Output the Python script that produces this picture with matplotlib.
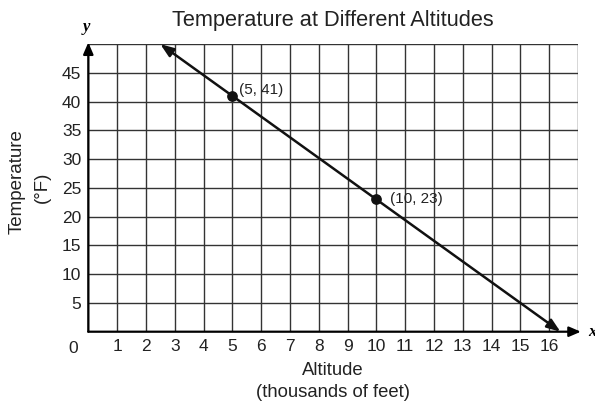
import matplotlib
matplotlib.use("Agg")
import matplotlib.pyplot as plt

# Data
x_ticks = list(range(0, 18))
x_tick_labels = [""] + [str(i) for i in range(1, 17)] + [""]
y_ticks = list(range(0, 55, 5))
y_tick_labels = [""] + [str(v) for v in range(5, 50, 5)] + [""]
points_x = [5, 10]
points_y = [41, 23]
point_labels = ["(5, 41)", "(10, 23)"]
label_offsets = [(4.5, 4.5), (9.5, 0)]
line_start = (2.5, 50)
line_end = (16.39, 0)

plt.rcParams['font.family'] = ['Liberation Sans', 'DejaVu Sans']

fig = plt.figure(figsize=(5.95, 4.01), dpi=100)
ax = fig.add_axes([0.1484, 0.1728, 0.9714 - 0.1484, 0.890 - 0.1728])
ax.set_xlim(0, 17)
ax.set_ylim(0, 50)
ax.set_xticks(x_ticks)
ax.set_xticklabels(x_tick_labels, fontsize=12.5, color="#222222")
ax.set_yticks(y_ticks)
ax.set_yticklabels(y_tick_labels, fontsize=12.5, color="#222222")
ax.tick_params(axis="x", length=0, pad=5)
ax.tick_params(axis="y", length=0, pad=5)
ax.grid(True, color="#333333", linewidth=1.0)
ax.set_axisbelow(True)
for s in ["top", "right", "left", "bottom"]:
    ax.spines[s].set_visible(False)

# origin label
ax.text(-0.35, -1.6, "0", fontsize=12.5, color="#222222", ha="right", va="top")

# axes arrows
ax.annotate("", xy=(0, 50.3), xytext=(0, 0),
            arrowprops=dict(arrowstyle="-|>,head_length=0.7,head_width=0.3",
                            color="black", lw=1.6, shrinkA=0, shrinkB=0),
            annotation_clip=False)
ax.annotate("", xy=(17.1, 0), xytext=(0, 0),
            arrowprops=dict(arrowstyle="-|>,head_length=0.7,head_width=0.3",
                            color="black", lw=1.6, shrinkA=0, shrinkB=0),
            annotation_clip=False)

# main line with arrows at both ends
ax.annotate("", xy=line_end, xytext=line_start,
            arrowprops=dict(arrowstyle="<|-|>,head_length=0.8,head_width=0.3",
                            color="#111111", lw=1.8, shrinkA=0, shrinkB=0),
            annotation_clip=False)

ax.scatter(points_x, points_y, s=45, color="#111111", zorder=5)
for px, py, lab, off in zip(points_x, points_y, point_labels, label_offsets):
    ax.annotate(lab, (px, py), xytext=off, textcoords="offset points",
                fontsize=11, color="#222222", ha="left", va="center")

# axis letters
ax.text(-0.05, 51.6, "y", fontsize=12, family="Liberation Serif", style="italic",
        fontweight="bold", ha="center", va="bottom")
ax.text(17.35, 0, "x", fontsize=12, family="Liberation Serif", style="italic",
        fontweight="bold", ha="left", va="center")

fig.text(0.56, 0.948, "Temperature at Different Altitudes", fontsize=15.7,
         ha="center", va="center", color="#222222")
fig.text(0.56, 0.077, "Altitude", fontsize=13.3, ha="center", va="center", color="#222222")
fig.text(0.56, 0.02, "(thousands of feet)", fontsize=13.3, ha="center", va="center", color="#222222")
fig.text(0.029, 0.547, "Temperature", fontsize=13.5, rotation=90, ha="center", va="center", color="#222222")
fig.text(0.072, 0.532, "(°F)", fontsize=13.5, rotation=90, ha="center", va="center", color="#222222")

fig.savefig("out.png", dpi=100)
